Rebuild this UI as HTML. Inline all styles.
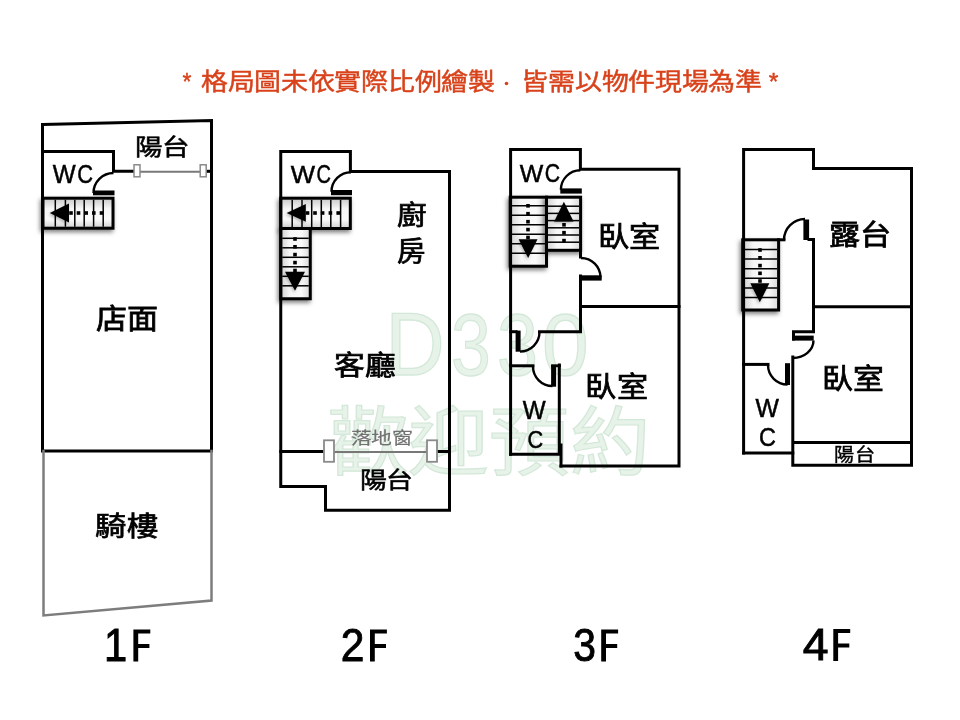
<!DOCTYPE html>
<html lang="zh-TW">
<head>
<meta charset="utf-8">
<style>
html,body{margin:0;padding:0;background:#fff;width:960px;height:720px;overflow:hidden}
svg{display:block;will-change:transform;font-family:"Liberation Sans",sans-serif}
.w{fill:none;stroke:#000;stroke-width:3;stroke-linecap:square;stroke-linejoin:miter}
.g{fill:none;stroke:#7d7d7d;stroke-width:2.5;stroke-linecap:square}
.arc{fill:none;stroke:#000;stroke-width:2.4}
.lbl{fill:#000;stroke:#000;stroke-width:0.5}
.wc{fill:#000;font-size:24.5px}
.fl{fill:#000;stroke:#000;stroke-width:0.9;font-size:45px}
</style>
</head>
<body>
<svg width="960" height="720" viewBox="0 0 960 720">
<defs>
  <filter id="sh" x="-30%" y="-30%" width="160%" height="160%">
    <feDropShadow dx="-1.5" dy="2.5" stdDeviation="2" flood-color="#000" flood-opacity="0.5"/>
  </filter>
  <filter id="sh2" x="-50%" y="-50%" width="200%" height="200%">
    <feDropShadow dx="-1" dy="1.5" stdDeviation="1.5" flood-color="#000" flood-opacity="0.3"/>
  </filter>
  <linearGradient id="gv" x1="0" y1="0" x2="0" y2="1">
    <stop offset="0" stop-color="#c8c8c8"/><stop offset="0.35" stop-color="#f6f6f6"/>
    <stop offset="0.7" stop-color="#fafafa"/><stop offset="1" stop-color="#d0d0d0"/>
  </linearGradient>
  <linearGradient id="gh" x1="0" y1="0" x2="1" y2="0">
    <stop offset="0" stop-color="#d0d0d0"/><stop offset="0.3" stop-color="#f6f6f6"/>
    <stop offset="0.7" stop-color="#fafafa"/><stop offset="1" stop-color="#d8d8d8"/>
  </linearGradient>
</defs>

<!-- watermark -->
<g fill="#e7f3e9" stroke="#d4e8d9" stroke-width="1.3"><text transform="matrix(0.9423 0 0 1.0167 366.56 273.83)" x="20" y="100" font-size="87" >D</text><text transform="matrix(0.8214 0 0 1.0081 434.61 274.19)" x="20" y="100" font-size="87" >3</text><text transform="matrix(0.8452 0 0 1.0081 480.06 274.19)" x="20" y="100" font-size="87" >3</text><text transform="matrix(0.9643 0 0 1.0081 522.82 274.19)" x="20" y="100" font-size="87" >0</text><text transform="matrix(1.0166 0 0 0.9466 307.22 374.26)" x="20" y="100" font-size="79" >歡迎預約</text></g>

<!-- header -->

<!-- ============ 1F ============ -->
<path class="w" d="M42.5 124.5 L211.5 120.5 L211.5 451 L42.5 451 Z"/>
<path class="g" d="M43.5 451 L43.5 615.5 L211.5 600.5 L211.5 451"/>
<path class="w" d="M42.5 151.5 H113.5 V171.3 H133"/>
<path class="w" d="M207 171.3 H211.5"/>
<line x1="140" y1="171.8" x2="200" y2="171.8" stroke="#787878" stroke-width="2"/>
<rect x="134" y="164.8" width="6" height="12" fill="#fff" stroke="#8a8a8a" stroke-width="1.5"/>
<rect x="200.2" y="164.8" width="6" height="12" fill="#fff" stroke="#8a8a8a" stroke-width="1.5"/>
<path class="arc" d="M113.5 173 A20 20 0 0 0 93.5 193"/>
<rect x="93" y="190.5" width="21.5" height="4.8" fill="#000"/>


<g filter="url(#sh)">
<rect x="43" y="198.2" width="70" height="30" fill="url(#gv)" stroke="#000" stroke-width="3"/>
</g>
<line x1="55.3" y1="199.7" x2="55.3" y2="226.7" stroke="#000" stroke-width="1.5"/>
<line x1="65.4" y1="199.7" x2="65.4" y2="226.7" stroke="#000" stroke-width="1.5"/>
<line x1="74.8" y1="199.7" x2="74.8" y2="226.7" stroke="#000" stroke-width="1.5"/>
<line x1="84.2" y1="199.7" x2="84.2" y2="226.7" stroke="#000" stroke-width="1.5"/>
<line x1="93.6" y1="199.7" x2="93.6" y2="226.7" stroke="#000" stroke-width="1.5"/>
<line x1="103.2" y1="199.7" x2="103.2" y2="226.7" stroke="#000" stroke-width="1.5"/>
<path d="M49.8 213.05 L69 203.5 L69 222.6 Z" fill="#000" filter="url(#sh2)"/>
<rect x="69.2" y="211.2" width="3.6" height="3.6" fill="#000"/>
<rect x="76.7" y="211.2" width="3.6" height="3.6" fill="#000"/>
<rect x="84.4" y="211.2" width="3.6" height="3.6" fill="#000"/>
<rect x="92" y="211.2" width="3.6" height="3.6" fill="#000"/>
<rect x="99.7" y="211.2" width="3.6" height="3.6" fill="#000"/>
<g filter="url(#sh)">
<rect x="280.75" y="198.2" width="69.55" height="30.3" fill="url(#gv)" stroke="#000" stroke-width="3"/>
</g>
<line x1="292.2" y1="199.7" x2="292.2" y2="227" stroke="#000" stroke-width="1.5"/>
<line x1="302" y1="199.7" x2="302" y2="227" stroke="#000" stroke-width="1.5"/>
<line x1="311.7" y1="199.7" x2="311.7" y2="227" stroke="#000" stroke-width="1.5"/>
<line x1="321.3" y1="199.7" x2="321.3" y2="227" stroke="#000" stroke-width="1.5"/>
<line x1="330.8" y1="199.7" x2="330.8" y2="227" stroke="#000" stroke-width="1.5"/>
<line x1="340.6" y1="199.7" x2="340.6" y2="227" stroke="#000" stroke-width="1.5"/>
<path d="M286.7 212.9 L305.8 204 L305.8 221.8 Z" fill="#000" filter="url(#sh2)"/>
<rect x="305.7" y="211.2" width="3.6" height="3.6" fill="#000"/>
<rect x="313.2" y="211.2" width="3.6" height="3.6" fill="#000"/>
<rect x="320.8" y="211.2" width="3.6" height="3.6" fill="#000"/>
<rect x="328.6" y="211.2" width="3.6" height="3.6" fill="#000"/>
<rect x="336.4" y="211.2" width="3.6" height="3.6" fill="#000"/>
<g filter="url(#sh)">
<rect x="280.75" y="228.5" width="29.5" height="70.25" fill="url(#gh)" stroke="#000" stroke-width="3"/>
</g>
<line x1="282.25" y1="238.3" x2="308.75" y2="238.3" stroke="#000" stroke-width="1.5"/>
<line x1="282.25" y1="247.8" x2="308.75" y2="247.8" stroke="#000" stroke-width="1.5"/>
<line x1="282.25" y1="257.3" x2="308.75" y2="257.3" stroke="#000" stroke-width="1.5"/>
<line x1="282.25" y1="266.8" x2="308.75" y2="266.8" stroke="#000" stroke-width="1.5"/>
<line x1="282.25" y1="276.3" x2="308.75" y2="276.3" stroke="#000" stroke-width="1.5"/>
<line x1="282.25" y1="285.8" x2="308.75" y2="285.8" stroke="#000" stroke-width="1.5"/>
<path d="M295 290.8 L285 271.7 L305 271.7 Z" fill="#000" filter="url(#sh2)"/>
<rect x="293.2" y="237.2" width="3.6" height="3.6" fill="#000"/>
<rect x="293.2" y="245" width="3.6" height="3.6" fill="#000"/>
<rect x="293.2" y="252.8" width="3.6" height="3.6" fill="#000"/>
<rect x="293.2" y="260.8" width="3.6" height="3.6" fill="#000"/>
<rect x="293.2" y="268.7" width="3.6" height="3.6" fill="#000"/>
<g filter="url(#sh)">
<rect x="510.2" y="197.2" width="36.3" height="69" fill="url(#gh)" stroke="#000" stroke-width="3"/>
</g>
<line x1="511.7" y1="205.8" x2="545" y2="205.8" stroke="#000" stroke-width="1.5"/>
<line x1="511.7" y1="215.3" x2="545" y2="215.3" stroke="#000" stroke-width="1.5"/>
<line x1="511.7" y1="224.7" x2="545" y2="224.7" stroke="#000" stroke-width="1.5"/>
<line x1="511.7" y1="234.2" x2="545" y2="234.2" stroke="#000" stroke-width="1.5"/>
<line x1="511.7" y1="243.7" x2="545" y2="243.7" stroke="#000" stroke-width="1.5"/>
<line x1="511.7" y1="253.2" x2="545" y2="253.2" stroke="#000" stroke-width="1.5"/>
<path d="M528.1 258 L518.7 239.2 L537.5 239.2 Z" fill="#000" filter="url(#sh2)"/>
<rect x="526.2" y="204" width="3.6" height="3.6" fill="#000"/>
<rect x="526.2" y="211.9" width="3.6" height="3.6" fill="#000"/>
<rect x="526.2" y="219.9" width="3.6" height="3.6" fill="#000"/>
<rect x="526.2" y="227.8" width="3.6" height="3.6" fill="#000"/>
<rect x="526.2" y="235.7" width="3.6" height="3.6" fill="#000"/>
<g filter="url(#sh)">
<rect x="546.5" y="197.2" width="34.1" height="53.1" fill="url(#gh)" stroke="#000" stroke-width="3"/>
</g>
<line x1="548" y1="206.2" x2="579.1" y2="206.2" stroke="#000" stroke-width="1.5"/>
<line x1="548" y1="213.4" x2="579.1" y2="213.4" stroke="#000" stroke-width="1.5"/>
<line x1="548" y1="220.6" x2="579.1" y2="220.6" stroke="#000" stroke-width="1.5"/>
<line x1="548" y1="227.8" x2="579.1" y2="227.8" stroke="#000" stroke-width="1.5"/>
<line x1="548" y1="235" x2="579.1" y2="235" stroke="#000" stroke-width="1.5"/>
<line x1="548" y1="242.2" x2="579.1" y2="242.2" stroke="#000" stroke-width="1.5"/>
<path d="M563.9 201.7 L554.2 221.4 L573.6 221.4 Z" fill="#000" filter="url(#sh2)"/>
<rect x="562.2" y="223" width="3.6" height="3.6" fill="#000"/>
<rect x="562.2" y="230.9" width="3.6" height="3.6" fill="#000"/>
<rect x="562.2" y="238.8" width="3.6" height="3.6" fill="#000"/>
<g filter="url(#sh)">
<rect x="742.7" y="239.8" width="35.9" height="70.2" fill="url(#gh)" stroke="#000" stroke-width="3"/>
</g>
<line x1="744.2" y1="249.4" x2="777.1" y2="249.4" stroke="#000" stroke-width="1.5"/>
<line x1="744.2" y1="259.1" x2="777.1" y2="259.1" stroke="#000" stroke-width="1.5"/>
<line x1="744.2" y1="268.7" x2="777.1" y2="268.7" stroke="#000" stroke-width="1.5"/>
<line x1="744.2" y1="278.3" x2="777.1" y2="278.3" stroke="#000" stroke-width="1.5"/>
<line x1="744.2" y1="287.9" x2="777.1" y2="287.9" stroke="#000" stroke-width="1.5"/>
<line x1="744.2" y1="297.5" x2="777.1" y2="297.5" stroke="#000" stroke-width="1.5"/>
<path d="M759.85 302.3 L750.3 283.3 L769.4 283.3 Z" fill="#000" filter="url(#sh2)"/>
<rect x="758.2" y="248.2" width="3.6" height="3.6" fill="#000"/>
<rect x="758.2" y="256" width="3.6" height="3.6" fill="#000"/>
<rect x="758.2" y="263.8" width="3.6" height="3.6" fill="#000"/>
<rect x="758.2" y="271.5" width="3.6" height="3.6" fill="#000"/>
<rect x="758.2" y="279.2" width="3.6" height="3.6" fill="#000"/>
<!-- ============ 2F ============ -->
<path class="w" d="M280.75 486.5 V151.5 H350.4 V171.4 H449.5 V510.3 H325.5 V486.5 Z"/>
<path class="w" d="M280.75 451.5 H322"/>
<path class="w" d="M438 451.5 H449.5"/>
<line x1="334" y1="452" x2="427" y2="452" stroke="#787878" stroke-width="2"/>
<rect x="324" y="440.3" width="10" height="21.5" fill="#fff" stroke="#8a8a8a" stroke-width="1.8"/>
<rect x="427" y="440.3" width="10" height="21.5" fill="#fff" stroke="#8a8a8a" stroke-width="1.8"/>
<path class="arc" d="M351 172.2 A19.5 19.5 0 0 0 331.5 191.7"/>
<rect x="331" y="190" width="21" height="5.2" fill="#000"/>


<!-- ============ 3F ============ -->
<path class="w" d="M510.6 454.2 V149.5 H580.4 V169.3 H679 V466 H561"/>
<path class="w" d="M580.5 306.5 H679"/>
<path class="w" d="M580.5 257 V250"/>
<path class="w" d="M580.5 276 V331.7 H539.5"/>
<path class="w" d="M510.6 331.7 H516"/>
<path class="w" d="M510.6 365.8 H533"/>
<path class="w" d="M510.6 454.2 H559.3 V365"/>
<path class="w" d="M561 445 V466"/>
<path class="arc" d="M580.4 170.3 A19.5 19.5 0 0 0 560.9 189.8"/>
<rect x="560.3" y="188.4" width="21.5" height="5.2" fill="#000"/>
<path class="arc" d="M581 258 A19.5 19.5 0 0 1 600.5 277.5"/>
<rect x="579.4" y="275.3" width="22.3" height="5.3" fill="#000"/>
<path class="arc" d="M520 351.5 A19.5 19.5 0 0 0 539.5 332"/>
<rect x="515.6" y="330.6" width="5" height="21.1" fill="#000"/>
<path class="arc" d="M533 366.5 A19.5 19.5 0 0 0 552.5 386"/>
<rect x="551.1" y="364.8" width="5" height="21.9" fill="#000"/>
<rect x="551.1" y="364.4" width="9.8" height="2.8" fill="#000"/>


<!-- ============ 4F ============ -->
<path class="w" d="M743.6 453.1 V149.5 H813.5 V168.4 H911.5 V465.3 H792.8 V357"/>
<path class="w" d="M813.5 306.7 H911.5"/>
<path class="w" d="M793.5 442.5 H911.5"/>
<path class="w" d="M743.6 453.1 H792.8"/>
<path class="w" d="M778.5 239.8 H784"/>
<path class="w" d="M809 239.6 H813.5 V331.7 H793.5 V339"/>
<path class="w" d="M743.6 364.4 H768"/>
<path class="arc" d="M784 240 A21 21 0 0 1 805 219"/>
<rect x="803.4" y="219.5" width="5.7" height="20.5" fill="#000"/>
<rect x="792.2" y="335.6" width="21.5" height="5" fill="#000"/>
<path class="arc" d="M813.5 340.6 A20.5 17.5 0 0 1 793 358"/>
<path class="arc" d="M768 365 A19.5 19.5 0 0 0 787.5 384.5"/>
<rect x="785" y="363.2" width="5" height="21.8" fill="#000"/>


<circle cx="506.5" cy="83.5" r="1.8" fill="#d8421a"/>
<text transform="matrix(1.0613 0 0 0.9200 179.61 -1.76)" x="20" y="100" font-size="25.4" fill="#d8421a" stroke="#d8421a" stroke-width="0.45">格局圖未依實際比例繪製　皆需以物件現場為準</text>
<text transform="matrix(0.9000 0 0 0.9444 164.50 -4.44)" x="20" y="100" font-size="25.4" fill="#d8421a" stroke="#d8421a" stroke-width="0.45">*</text>
<text transform="matrix(0.9750 0 0 0.9444 749.25 -4.44)" x="20" y="100" font-size="25.4" fill="#d8421a" stroke="#d8421a" stroke-width="0.45">*</text>
<text transform="matrix(1.0978 0 0 0.9200 112.85 63.24)" x="20" y="100" font-size="25" fill="#000" stroke="#000" stroke-width="0.6">陽台</text>
<text transform="matrix(0.9708 0 0 1.0000 33.38 83.00)" x="20" y="100" font-size="25" fill="#000" stroke="#000" stroke-width="0.5">W</text>
<text transform="matrix(0.8750 0 0 1.0389 59.83 79.41)" x="20" y="100" font-size="25" fill="#000" stroke="#000" stroke-width="0.5">C</text>
<text transform="matrix(1.0362 0 0 0.9655 75.74 232.59)" x="20" y="100" font-size="30" fill="#000" stroke="#000" stroke-width="0.8">店面</text>
<text transform="matrix(1.0448 0 0 0.9233 73.86 443.37)" x="20" y="100" font-size="30" fill="#000" stroke="#000" stroke-width="0.8">騎樓</text>
<text transform="matrix(0.8682 0 0 0.9543 86.73 565.32)" x="20" y="100" font-size="48" fill="#000" stroke="#000" stroke-width="1.0">1</text>
<text transform="matrix(1.0292 0 0 0.9889 270.22 83.81)" x="20" y="100" font-size="25" fill="#000" stroke="#000" stroke-width="0.5">W</text>
<text transform="matrix(0.8000 0 0 1.0278 300.60 80.22)" x="20" y="100" font-size="25" fill="#000" stroke="#000" stroke-width="0.5">C</text>
<text transform="matrix(0.9857 0 0 0.9138 377.30 133.38)" x="20" y="100" font-size="30" fill="#000" stroke="#000" stroke-width="0.8">廚</text>
<text transform="matrix(0.9500 0 0 0.9000 378.05 171.40)" x="20" y="100" font-size="30" fill="#000" stroke="#000" stroke-width="0.8">房</text>
<text transform="matrix(1.0259 0 0 0.9067 313.96 284.11)" x="20" y="100" font-size="30" fill="#000" stroke="#000" stroke-width="0.8">客廳</text>
<text transform="matrix(1.0431 0 0 0.8650 329.79 357.37)" x="20" y="100" font-size="20" fill="#717171" stroke="#717171" stroke-width="0.2">落地窗</text>
<text transform="matrix(1.0739 0 0 0.9120 338.07 397.16)" x="20" y="100" font-size="25" fill="#000" stroke="#000" stroke-width="0.6">陽台</text>
<text transform="matrix(0.8870 0 0 0.9486 322.99 565.89)" x="20" y="100" font-size="48" fill="#000" stroke="#000" stroke-width="1.0">2</text>
<text transform="matrix(0.9958 0 0 0.9778 499.88 83.92)" x="20" y="100" font-size="25" fill="#000" stroke="#000" stroke-width="0.5">W</text>
<text transform="matrix(0.8500 0 0 1.0111 527.75 80.89)" x="20" y="100" font-size="25" fill="#000" stroke="#000" stroke-width="0.5">C</text>
<text transform="matrix(1.0386 0 0 0.9345 577.15 153.75)" x="20" y="100" font-size="30" fill="#000" stroke="#000" stroke-width="0.8">臥室</text>
<text transform="matrix(1.0377 0 0 0.9345 564.27 303.75)" x="20" y="100" font-size="30" fill="#000" stroke="#000" stroke-width="0.8">臥室</text>
<text transform="matrix(0.9708 0 0 1.0167 503.38 317.23)" x="20" y="100" font-size="25" fill="#000" stroke="#000" stroke-width="0.5">W</text>
<text transform="matrix(0.8688 0 0 0.9889 510.06 348.91)" x="20" y="100" font-size="25" fill="#000" stroke="#000" stroke-width="0.5">C</text>
<text transform="matrix(0.8500 0 0 0.9543 556.35 565.32)" x="20" y="100" font-size="48" fill="#000" stroke="#000" stroke-width="1.0">3</text>
<text transform="matrix(1.0386 0 0 0.9433 808.19 150.19)" x="20" y="100" font-size="30" fill="#000" stroke="#000" stroke-width="0.8">露台</text>
<text transform="matrix(1.0281 0 0 0.9379 801.38 294.99)" x="20" y="100" font-size="30" fill="#000" stroke="#000" stroke-width="0.8">臥室</text>
<text transform="matrix(0.9917 0 0 1.0083 735.77 316.07)" x="20" y="100" font-size="25" fill="#000" stroke="#000" stroke-width="0.5">W</text>
<text transform="matrix(0.9375 0 0 1.0083 740.31 345.42)" x="20" y="100" font-size="25" fill="#000" stroke="#000" stroke-width="0.5">C</text>
<text transform="matrix(1.0079 0 0 0.8900 814.33 372.22)" x="20" y="100" font-size="20" fill="#000" stroke="#000" stroke-width="0.45">陽台</text>
<text transform="matrix(0.9660 0 0 0.9400 783.46 565.86)" x="20" y="100" font-size="48" fill="#000" stroke="#000" stroke-width="1.0">4</text>
<path d="M133.4 629.5h16.9v4.1h-12.1v10.5h11.2v3.8h-11.2v13.7h-4.8z" fill="#000"/>
<path d="M370 629.5h16.9v4.1h-12.1v10.5h11.2v3.8h-11.2v13.7h-4.8z" fill="#000"/>
<path d="M601.2 629.5h16.9v4.1h-12.1v10.5h11.2v3.8h-11.2v13.7h-4.8z" fill="#000"/>
<path d="M833.3 629h16.9v4.1h-12.1v10.5h11.2v3.8h-11.2v13.7h-4.8z" fill="#000"/>
</svg>
</body>
</html>
